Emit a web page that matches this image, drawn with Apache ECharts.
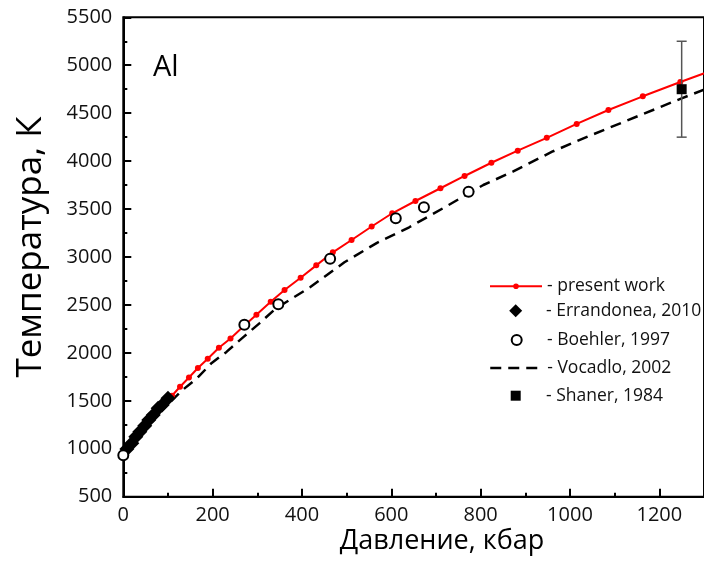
<!DOCTYPE html>
<html>
<head>
<meta charset="utf-8">
<style>
  html, body { margin: 0; padding: 0; background: #fff; }
  #chart { width: 704px; height: 561px; }
</style>
<script src="https://cdn.jsdelivr.net/npm/echarts@6/dist/echarts.min.js"></script>
</head>
<body>
<div id="chart"></div>
<script>
// Melting curve of aluminium: temperature (K) versus pressure (kbar)

// present work (calculated curve with nodes)
const presentP = [0, 10, 20, 31, 42, 54, 67, 80, 94, 109, 127, 147, 167, 189, 214, 240, 268, 298, 330, 361,
  397, 432, 469, 511, 556, 602, 654, 710, 764, 824, 883, 948, 1015, 1086, 1163, 1247, 1335];
const presentT = [933, 1003, 1068, 1136, 1202, 1270, 1343, 1412, 1482, 1553, 1647, 1743, 1842, 1939, 2053, 2150, 2272, 2398, 2534, 2656,
  2784, 2913, 3049, 3177, 3318, 3456, 3584, 3717, 3845, 3983, 4109, 4243, 4388, 4533, 4676, 4825, 4975];

// Errandonea, 2010
const errP = [8, 19, 28, 37, 48, 57, 67, 78, 87, 100];
const errT = [997, 1057, 1126, 1178, 1240, 1300, 1352, 1422, 1456, 1526];

// Boehler, 1997
const boeP = [0, 271, 347, 463, 610, 673, 773];
const boeT = [933, 2294, 2507, 2982, 3404, 3518, 3681];

// Vocadlo, 2002
const vocP = [0, 50, 100, 132, 166, 198, 231, 270, 304, 342, 418, 495, 568, 640, 722, 806, 872, 960, 1048, 1250, 1300];
const vocT = [933, 1225, 1465, 1610, 1740, 1895, 2010, 2170, 2305, 2465, 2684, 2945, 3148, 3310, 3525, 3751, 3890, 4098, 4272, 4655, 4745];

// Shaner, 1984 (value with error bar)
const shaP = [1250];
const shaT = [4750];
const shaErr = [500];

// axis ticks
const xTickStep = 200;
const yTickStep = 500;

const zip = (a, b) => a.map((v, i) => [v, b[i]]);

const FONT = 'Open Sans';
const chart = echarts.init(document.getElementById('chart'), null, { renderer: 'canvas' });

const names = ['present work', 'Errandonea, 2010', 'Boehler, 1997', 'Vocadlo, 2002', 'Shaner, 1984'];
const rowY = [280.7, 308.3, 336, 364, 391.7];
const KEY_LEFT = 489, KEY_W = 52, TEXT_X = 546, ICON_CX = 515.7;

// line rows: full-width key; marker rows: square key centred on ICON_CX, text pushed to TEXT_X
function legendLine(i, h, extra) {
  return Object.assign({
    orient: 'vertical', left: KEY_LEFT, top: rowY[i] - h / 2,
    itemWidth: KEY_W, itemHeight: h, padding: 0,
    data: [names[i]], formatter: '- {name}', selectedMode: false,
    textStyle: { fontFamily: FONT, fontSize: 17.5, color: '#111' }
  }, extra);
}
function legendMarker(i, s, extra) {
  const left = ICON_CX - s / 2;
  return Object.assign({
    orient: 'vertical', left: left, top: rowY[i] - s / 2,
    itemWidth: s, itemHeight: s, padding: 0,
    data: [names[i]], formatter: '- {name}', selectedMode: false,
    textStyle: { fontFamily: FONT, fontSize: 17.5, color: '#111', padding: [0, 0, 0, TEXT_X - (left + s + 5)] }
  }, extra);
}

const numLabel = v => String(v);

const option = {
  animation: false,
  backgroundColor: '#fff',
  grid: {
    left: 123.3, top: 17.3, width: 591.2, height: 479.4,
    show: true, borderColor: '#000', borderWidth: 2, backgroundColor: 'transparent',
    containLabel: false
  },
  xAxis: {
    type: 'value', min: 0, max: 1300, interval: xTickStep,
    axisLine: { show: true, lineStyle: { color: '#000', width: 2 } },
    axisTick: { show: true, inside: true, length: 8, lineStyle: { color: '#000', width: 2 } },
    minorTick: { show: true, splitNumber: 2, length: 4, lineStyle: { color: '#000', width: 2 } },
    splitLine: { show: false },
    axisLabel: { show: true, showMaxLabel: false, margin: 9, fontFamily: FONT, fontSize: 20, color: '#111', formatter: numLabel }
  },
  yAxis: {
    type: 'value', min: 500, max: 5500, interval: yTickStep,
    axisLine: { show: true, lineStyle: { color: '#000', width: 2 } },
    axisTick: { show: true, inside: true, length: 8, lineStyle: { color: '#000', width: 2 } },
    minorTick: { show: true, splitNumber: 2, length: 4, lineStyle: { color: '#000', width: 2 } },
    splitLine: { show: false },
    axisLabel: { show: true, margin: 11, fontFamily: FONT, fontSize: 20, color: '#111', formatter: numLabel }
  },
  legend: [
    legendLine(0, 7, { lineStyle: { color: '#ff0000', width: 2 }, itemStyle: { color: '#ff0000', borderWidth: 0 } }),
    legendMarker(1, 13, { icon: 'diamond', itemStyle: { color: '#000', borderWidth: 0, opacity: 1 } }),
    legendMarker(2, 10, { icon: 'circle', itemStyle: { color: '#fff', borderColor: '#000', borderWidth: 2, opacity: 1 } }),
    legendLine(3, 10, { lineStyle: { color: '#000', width: 2.5, type: [11, 7] }, itemStyle: { color: 'transparent', borderWidth: 0, opacity: 0 } }),
    legendMarker(4, 10, { icon: 'rect', itemStyle: { color: '#000', borderWidth: 0, opacity: 1 } })
  ],
  graphic: [
    { type: 'text', left: 153, top: 53, style: { text: 'Al', fontFamily: FONT, fontSize: 29, fill: '#000' } },
    { type: 'text', x: 442, y: 541, style: { text: 'Давление, кбар', fontFamily: FONT, fontSize: 27, fill: '#000', align: 'center', verticalAlign: 'middle' } },
    { type: 'text', x: 31, y: 247, rotation: Math.PI / 2, style: { text: 'Температура, К', fontFamily: FONT, fontSize: 35, fill: '#000', align: 'center', verticalAlign: 'middle' } }
  ],
  series: [
    {
      name: names[3], type: 'line', data: zip(vocP, vocT), symbol: 'none', z: 2,
      lineStyle: { color: '#000', width: 2.5, type: [11, 7] }, itemStyle: { color: '#000' }
    },
    {
      name: names[0], type: 'line', data: zip(presentP, presentT), symbol: 'circle', symbolSize: 6, z: 3,
      lineStyle: { color: '#ff0000', width: 2 }, itemStyle: { color: '#ff0000' }
    },
    {
      name: names[1], type: 'scatter', data: zip(errP, errT), symbol: 'diamond', symbolSize: 15, z: 4,
      itemStyle: { color: '#000', opacity: 1 }
    },
    {
      name: names[2], type: 'scatter', data: zip(boeP, boeT), symbol: 'circle', symbolSize: 10, z: 5,
      itemStyle: { color: '#fff', borderColor: '#000', borderWidth: 2, opacity: 1 }
    },
    {
      name: 'error', type: 'custom', z: 6,
      data: shaP.map((p, i) => [p, shaT[i] - shaErr[i], shaT[i] + shaErr[i]]),
      renderItem: function (params, api) {
        const lo = api.coord([api.value(0), api.value(1)]);
        const hi = api.coord([api.value(0), api.value(2)]);
        const cap = 5;
        const st = { stroke: '#555', lineWidth: 1.5 };
        return {
          type: 'group',
          children: [
            { type: 'line', shape: { x1: lo[0], y1: lo[1], x2: hi[0], y2: hi[1] }, style: st },
            { type: 'line', shape: { x1: lo[0] - cap, y1: lo[1], x2: lo[0] + cap, y2: lo[1] }, style: st },
            { type: 'line', shape: { x1: hi[0] - cap, y1: hi[1], x2: hi[0] + cap, y2: hi[1] }, style: st }
          ]
        };
      }
    },
    {
      name: names[4], type: 'scatter', data: zip(shaP, shaT), symbol: 'rect', symbolSize: 10, z: 7,
      itemStyle: { color: '#000', opacity: 1 }
    }
  ]
};

chart.setOption(option);
</script>
</body>
</html>
